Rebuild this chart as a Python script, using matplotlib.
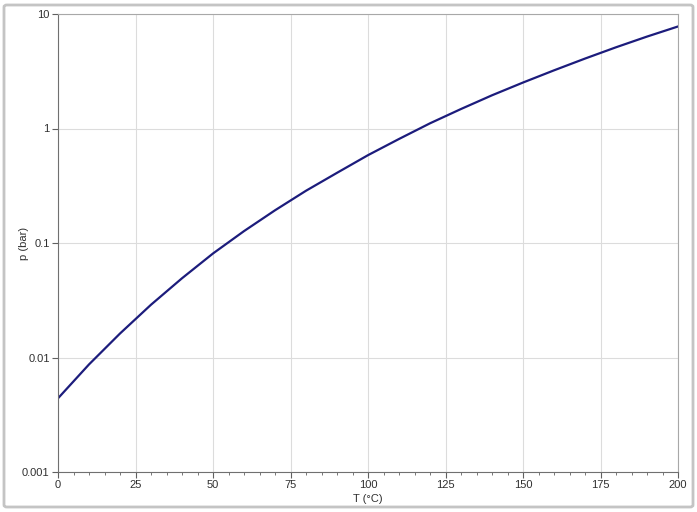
import numpy as np
import matplotlib.pyplot as plt
from matplotlib.patches import FancyBboxPatch
from matplotlib.ticker import FixedLocator, FuncFormatter, MultipleLocator, NullLocator

# values (every 10 °C)
temp = [0, 10, 20, 30, 40, 50, 60, 70, 80, 90, 100,
        110, 120, 130, 140, 150, 160, 170, 180, 190, 200]
pres = [0.0044, 0.0087, 0.0162, 0.0289, 0.0492, 0.081, 0.127, 0.193, 0.286, 0.41, 0.585,
        0.81, 1.11, 1.48, 1.95, 2.52, 3.22, 4.08, 5.12, 6.35, 7.78]
y_ticks = [0.001, 0.01, 0.1, 1, 10]
x_ticks = [0, 25, 50, 75, 100, 125, 150, 175, 200]

plt.rcParams['font.family'] = ['Liberation Sans', 'DejaVu Sans']

fig = plt.figure(figsize=(6.97, 5.12), dpi=100)
ax = fig.add_axes([58/697, 1-472/512, 620/697, 458/512])

# outer frame around the figure
frame = FancyBboxPatch((4/697, 5/512), 689/697, 502/512, boxstyle='round,pad=0,rounding_size=0.004',
                       transform=fig.transFigure, facecolor='none', edgecolor='#c4c4c4', linewidth=2)
fig.patches.append(frame)

ax.plot(temp, pres, color='#1c1c7c', linewidth=1.6)

ax.set_yscale('log')
ax.set_xlim(0, 200)
ax.set_ylim(0.001, 10)
ax.xaxis.set_major_locator(FixedLocator(x_ticks))
ax.xaxis.set_minor_locator(MultipleLocator(5))
ax.yaxis.set_major_locator(FixedLocator(y_ticks))
ax.yaxis.set_minor_locator(NullLocator())
ax.yaxis.set_major_formatter(FuncFormatter(lambda v, p: '%g' % v))

ax.grid(True, which='major', color='#dcdcdc', linewidth=0.8)
ax.set_axisbelow(True)

ax.tick_params(which='major', length=4, width=0.8, color='#606060', labelsize=8, labelcolor='#303030', pad=2)
ax.tick_params(which='minor', length=2, width=0.6, color='#606060')

ax.spines['left'].set_color('#707070')
ax.spines['bottom'].set_color('#707070')
ax.spines['top'].set_color('#a8a8a8')
ax.spines['right'].set_color('#a8a8a8')

ax.set_xlabel('T (°C)', fontsize=8, color='#303030', labelpad=3)
ax.set_ylabel('p (bar)', fontsize=8, color='#303030')
ax.yaxis.set_label_coords(-0.047, 0.5)

fig.savefig('out.png', dpi=100)
